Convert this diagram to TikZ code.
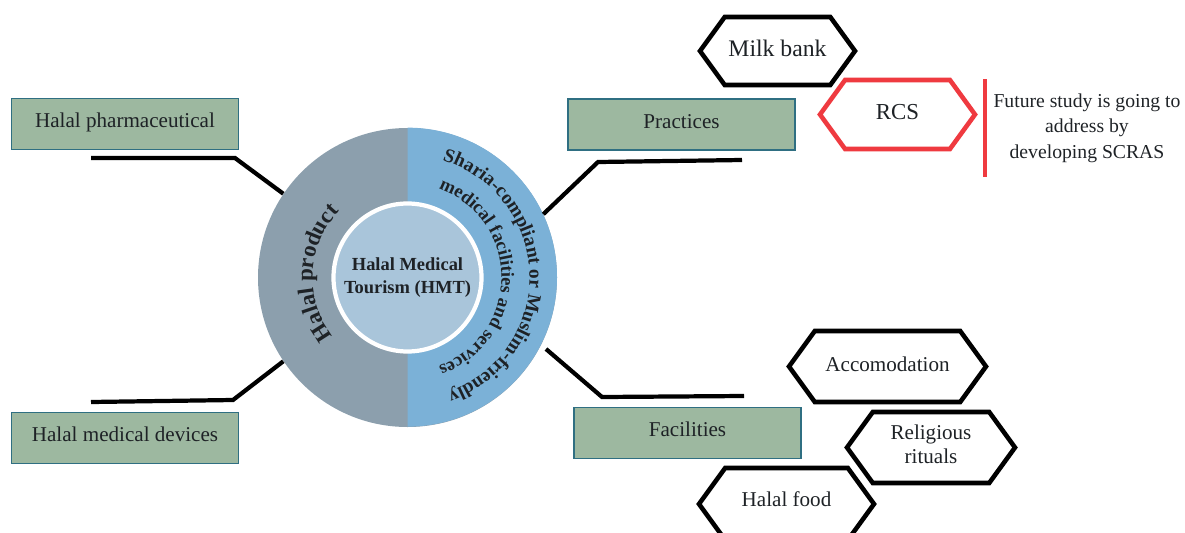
\documentclass[tikz,border=0pt]{standalone}
\usepackage{fontspec}
\setmainfont{Liberation Serif}
\usetikzlibrary{shapes.symbols,decorations.text}

\definecolor{boxgreen}{HTML}{9DB8A0}
\definecolor{boxedge}{HTML}{2F6F82}
\definecolor{halfgrey}{HTML}{8C9FAD}
\definecolor{halfblue}{HTML}{7BB1D7}
\definecolor{coreblue}{HTML}{A9C5DA}
\definecolor{alertred}{HTML}{EF3A40}
\definecolor{ink}{HTML}{1E2226}

\tikzset{
  topic/.style={draw=boxedge, line width=1.1pt, fill=boxgreen, minimum width=4.54cm, minimum height=1.02cm,
    text height=8pt, text depth=3.7pt, text=ink, font=\fontsize{12}{15}\selectfont},
  hexa/.style={signal, signal to=east and west, signal pointer angle=108, draw=black, line width=2.6pt,
    fill=white, inner sep=0pt, text=ink, align=center, font=\fontsize{12}{13.6}\selectfont},
  leader/.style={draw=black, line width=2.4pt}
}

\begin{document}
\begin{tikzpicture}
  \useasboundingbox (0,0) rectangle (23.7,10.64);
  \clip (0,0) rectangle (23.7,10.64);

  % hub
  \node[circle, fill=halfgrey, minimum size=5.98cm, inner sep=0pt] (hub) at (8.15,5.09) {};
  \fill[halfblue] (hub.north) arc[start angle=90, end angle=-90, radius=2.99cm] -- cycle;
  \node[circle, fill=coreblue, draw=white, line width=2.4pt, minimum size=2.96cm, inner sep=0pt,
    align=center, text=ink, font=\fontsize{10.5}{13}\selectfont\bfseries] (core) at (hub)
    {Halal Medical\\Tourism (HMT)};

  % text round the ring
  \path[decorate, decoration={text along path, text align=center, text color=ink,
    text={|\fontsize{13}{15}\selectfont\bfseries|Halal product}}]
    ([shift={(232:1.9)}]hub.center) arc[start angle=232, end angle=122, radius=1.9];
  \path[decorate, decoration={text along path, text align=center, text color=ink,
    text={|\fontsize{11}{13}\selectfont\bfseries|Sharia-compliant or Muslim-friendly}}]
    ([shift={(85:2.44)}]hub.center) arc[start angle=85, end angle=-82.4, radius=2.44];
  \path[decorate, decoration={text along path, text align=center, text color=ink,
    text={|\fontsize{10.5}{13}\selectfont\bfseries|medical facilities and services}}]
    ([shift={(85:1.88)}]hub.center) arc[start angle=85, end angle=-85, radius=1.88];

  % topics
  \node[topic] (pharma)  at (2.5,8.16)   {Halal pharmaceutical};
  \node[topic] (devices) at (2.5,1.88)   {Halal medical devices};
  \node[topic] (practices)  at (13.63,8.15) {Practices};
  \node[topic] (facilities) at (13.75,1.98) {Facilities};

  % leaders
  \coordinate (pharmaBend) at (4.7,7.48);
  \coordinate (pharmaEnd) at (1.82,7.48);
  \coordinate (devicesBend) at (4.66,2.64);
  \coordinate (devicesEnd) at (1.82,2.6);
  \coordinate (practicesBend) at (11.96,7.4);
  \coordinate (practicesEnd) at (14.84,7.44);
  \coordinate (facilitiesBend) at (12.04,2.7);
  \coordinate (facilitiesEnd) at (14.88,2.72);
  \coordinate (facilitiesFoot) at (10.92,3.66);
  \draw[leader] (hub.146) -- (pharmaBend) -- (pharmaEnd);
  \draw[leader] (hub.214) -- (devicesBend) -- (devicesEnd);
  \draw[leader] (hub.25) -- (practicesBend) -- (practicesEnd);
  \draw[leader] (facilitiesFoot) -- (facilitiesBend) -- (facilitiesEnd);

  % hexagons
  \node[hexa, minimum width=3.1cm, minimum height=1.36cm, text height=8pt, text depth=1.5pt, font=\fontsize{13.5}{16}\selectfont] (milk) at (15.55,9.62) {Milk bank};
  \node[hexa, draw=alertred, minimum width=3.1cm, minimum height=1.38cm, text height=8pt, text depth=2.6pt, font=\fontsize{13}{16}\selectfont] (rcs) at (17.95,8.35) {RCS};
  \node[hexa, minimum width=3.94cm, minimum height=1.42cm, text height=8pt, text depth=2.6pt] (accom) at (17.75,3.31) {Accomodation};
  \node[hexa, minimum width=3.36cm, minimum height=1.42cm] (rituals) at (18.62,1.69) {Religious\\rituals\rule[-3.4pt]{0pt}{0pt}};
  \node[hexa, minimum width=3.5cm, minimum height=1.44cm, text height=8pt, text depth=5.4pt] (food) at (15.73,0.56) {Halal food};

  % note beside RCS
  \coordinate (noteTop) at (19.7,9.06);
  \coordinate (noteBottom) at (19.7,7.1);
  \draw[alertred, line width=2.4pt] (noteTop) -- (noteBottom);
  \node[align=center, text=ink, inner sep=0pt, font=\fontsize{11.2}{14.6}\selectfont] (note) at (21.74,8.08)
    {Future study is going to\\address by\\developing SCRAS};
\end{tikzpicture}
\end{document}
